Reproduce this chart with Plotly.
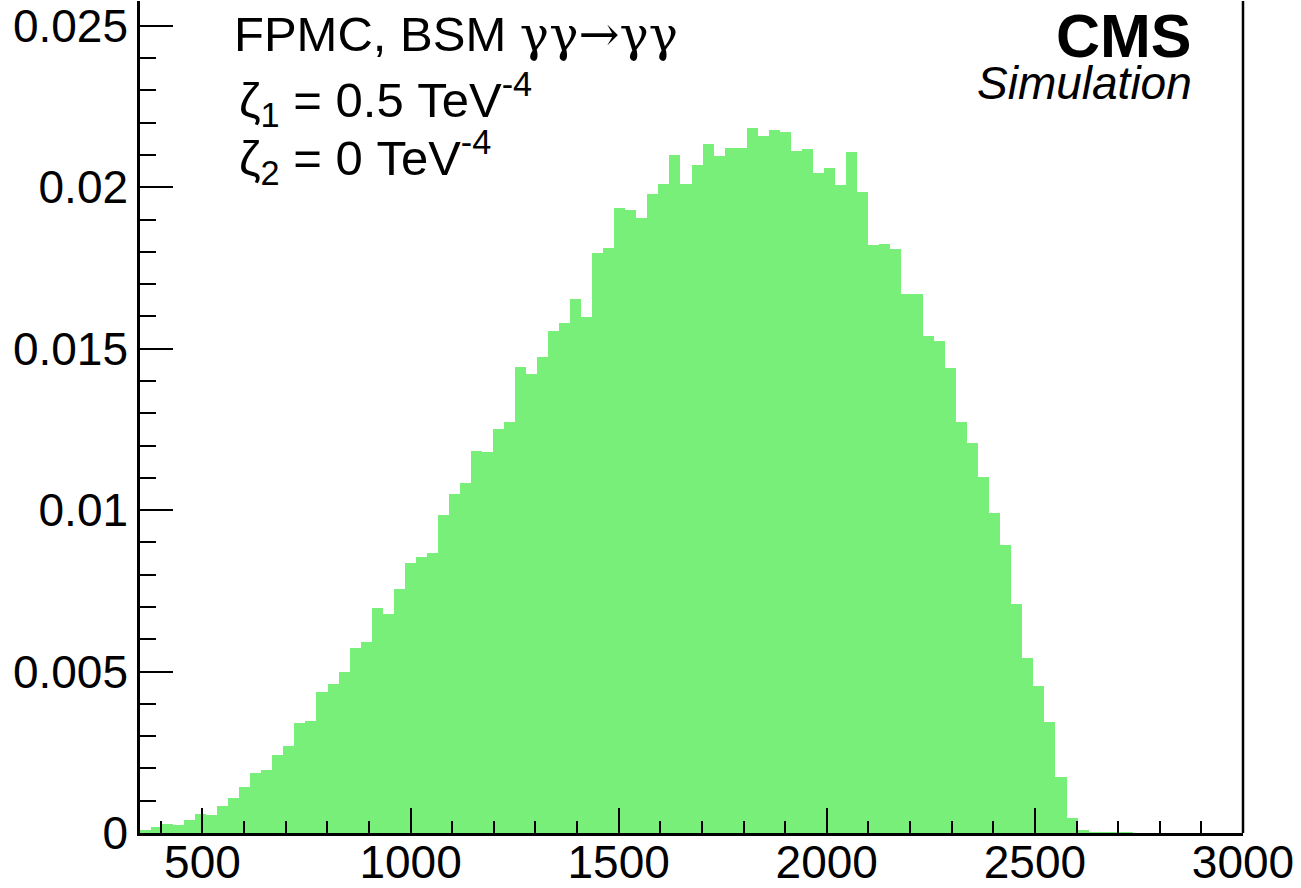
import plotly.graph_objects as go

# ---- data ----
x_min = 350.0
x_max = 3000.0
n_bins = 100
bin_values_e3 = [
    0.08, 0.19, 0.29, 0.25, 0.39, 0.60, 0.55, 0.83, 1.07, 1.43,
    1.87, 1.96, 2.42, 2.68, 3.40, 3.46, 4.37, 4.62, 4.99, 5.74,
    5.93, 6.96, 6.77, 7.56, 8.36, 8.55, 8.68, 9.85, 10.49, 10.83,
    11.82, 11.80, 12.50, 12.74, 14.43, 14.21, 14.75, 15.56, 15.81, 16.53,
    15.99, 17.98, 18.13, 19.36, 19.30, 19.06, 19.78, 20.10, 21.00, 20.09,
    20.69, 21.33, 20.97, 21.21, 21.21, 21.84, 21.59, 21.78, 21.71, 21.13,
    21.19, 20.45, 20.59, 20.06, 21.09, 19.86, 18.20, 18.24, 18.10, 16.68,
    16.70, 15.38, 15.23, 14.41, 12.72, 12.09, 11.04, 9.92, 8.93, 7.09,
    5.41, 4.55, 3.44, 1.74, 0.48, 0.09, 0.02, 0.02, 0.02, 0.02,
    0.0, 0.0, 0.0, 0.0, 0.0, 0.0, 0.0, 0.0, 0.0, 0.0,
]
x_tick_vals = [500, 1000, 1500, 2000, 2500, 3000]
x_tick_text = ["500", "1000", "1500", "2000", "2500", "3000"]
y_tick_vals = [0, 0.005, 0.01, 0.015, 0.02, 0.025]
y_tick_text = ["0", "0.005", "0.01", "0.015", "0.02", "0.025"]
y_top = 0.02577

bin_width = (x_max - x_min) / n_bins
centers = [x_min + bin_width * (i + 0.5) for i in range(n_bins)]
values = [v * 1e-3 for v in bin_values_e3]

GREEN = "rgb(120,239,120)"
FONT = "Liberation Sans, Arial, sans-serif"

fig = go.Figure()
fig.add_trace(go.Bar(
    x=centers, y=values, width=bin_width,
    marker=dict(color=GREEN, line=dict(width=0)),
    hoverinfo="skip",
))

fig.update_layout(
    width=1301, height=888,
    margin=dict(l=140, r=58, t=0, b=53, pad=0),
    paper_bgcolor="white", plot_bgcolor="white",
    showlegend=False, bargap=0,
    font=dict(family=FONT, color="black", size=46),
)
fig.update_xaxes(
    range=[x_min, x_max], showgrid=False, zeroline=False,
    showline=True, linecolor="black", linewidth=2.5,
    ticks="inside", ticklen=25, tickwidth=2, tickcolor="black",
    tickvals=x_tick_vals, ticktext=x_tick_text,
    tickfont=dict(family=FONT, size=46, color="black"),
    ticklabelstandoff=-13,
    minor=dict(ticks="inside", ticklen=12, tickwidth=2, tickcolor="black",
               dtick=100, tick0=0, showgrid=False),
)
fig.update_yaxes(
    range=[0, y_top], showgrid=False, zeroline=False,
    showline=True, linecolor="black", linewidth=2.5,
    ticks="inside", ticklen=33, tickwidth=2, tickcolor="black",
    tickvals=y_tick_vals, ticktext=y_tick_text,
    tickfont=dict(family=FONT, size=46, color="black"),
    ticklabeloverflow="allow",
    minor=dict(ticks="inside", ticklen=16, tickwidth=2, tickcolor="black",
               dtick=0.001, tick0=0, showgrid=False),
    ticklabelstandoff=0,
)

# right frame line
fig.add_shape(type="line", xref="paper", yref="paper", x0=1, x1=1, y0=0, y1=1,
              line=dict(color="black", width=2.5))

def px_x(p):
    return (p - 140) / 1103.0

def px_y(p):
    return 1 - p / 835.0

serif = "font-family:'DejaVu Serif'"
fig.add_annotation(xref="paper", yref="paper", x=px_x(232), y=px_y(34),
                   xanchor="left", yanchor="middle", showarrow=False,
                   text="FPMC, BSM <span style=\"%s\">γγ→γγ</span>" % serif,
                   font=dict(family=FONT, size=49, color="black"))
fig.add_annotation(xref="paper", yref="paper", x=px_x(237), y=px_y(99),
                   xanchor="left", yanchor="middle", showarrow=False,
                   text="ζ<sub>1</sub> = 0.5 TeV<sup>-4</sup>",
                   font=dict(family=FONT, size=49, color="black"))
fig.add_annotation(xref="paper", yref="paper", x=px_x(237), y=px_y(157),
                   xanchor="left", yanchor="middle", showarrow=False,
                   text="ζ<sub>2</sub> = 0 TeV<sup>-4</sup>",
                   font=dict(family=FONT, size=49, color="black"))
fig.add_annotation(xref="paper", yref="paper", x=px_x(1194), y=px_y(35),
                   xanchor="right", yanchor="middle", showarrow=False,
                   text="<b>CMS</b>",
                   font=dict(family=FONT, size=61, color="black"))
fig.add_annotation(xref="paper", yref="paper", x=px_x(1194), y=px_y(82),
                   xanchor="right", yanchor="middle", showarrow=False,
                   text="<i>Simulation</i>",
                   font=dict(family=FONT, size=46, color="black"))

fig.write_html(
    "out.html",
    config={"displayModeBar": False},
    post_script="document.body.style.margin='0px';document.body.style.padding='0px';",
)
